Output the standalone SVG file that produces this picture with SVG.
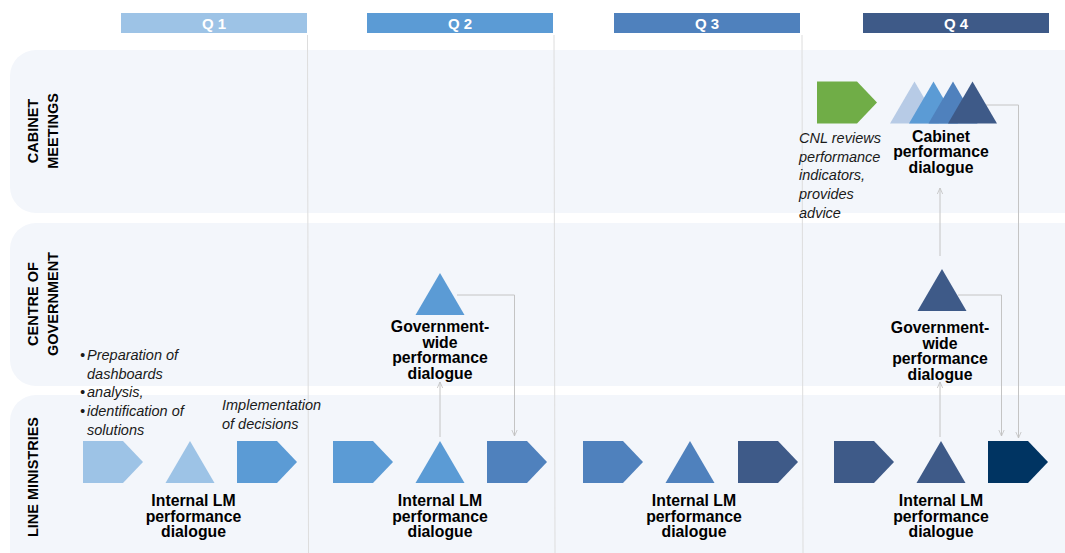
<svg xmlns="http://www.w3.org/2000/svg" width="1065" height="553" viewBox="0 0 1065 553">
<style>
.lane{fill:#F3F6FB}
.div{stroke:#DDDDDD;stroke-width:1;fill:none}
.hdr{font-family:"Liberation Sans",Arial,sans-serif;font-weight:bold;font-size:15px;fill:#FFFFFF;text-anchor:middle}
.lbl{font-family:"Liberation Sans",Arial,sans-serif;font-weight:bold;font-size:15.8px;fill:#000000;text-anchor:middle}
.lane-lbl{font-family:"Liberation Sans",Arial,sans-serif;font-weight:bold;font-size:14.5px;fill:#000000;text-anchor:middle}
.it{font-family:"Liberation Sans",Arial,sans-serif;font-style:italic;font-size:14.5px;fill:#1A1A1A}
.con{stroke:#C4C4C4;stroke-width:1;fill:none}
.c1{fill:#9DC3E6}.c2{fill:#5B9BD5}.c3{fill:#4F81BD}.c4{fill:#3E5A88}.c5{fill:#003462}.cl{fill:#B7CBE6}.cg{fill:#70AD47}
</style>
<defs>
<path id="pent" d="M0,0 H40 L60,21 L40,42 H0 Z"/>
<path id="tri" d="M24.5,0 L49,42 H0 Z"/>
<marker id="arr" viewBox="0 0 10 10" refX="9" refY="5" markerWidth="7" markerHeight="7" orient="auto" markerUnits="userSpaceOnUse">
<path d="M0,1 L9,5 L0,9" fill="none" stroke="#C4C4C4" stroke-width="1.2"/>
</marker>
</defs>

<g id="lanes">
<rect class="lane" x="10" y="50" width="1085" height="163" rx="26"/>
<rect class="lane" x="10" y="223" width="1085" height="163" rx="26"/>
<rect class="lane" x="10" y="395" width="1085" height="190" rx="26"/>
<text class="lane-lbl" transform="translate(37.5,131) rotate(-90)">CABINET</text>
<text class="lane-lbl" transform="translate(58,131) rotate(-90)">MEETINGS</text>
<text class="lane-lbl" transform="translate(37.5,304) rotate(-90)">CENTRE OF</text>
<text class="lane-lbl" transform="translate(58,304) rotate(-90)">GOVERNMENT</text>
<text class="lane-lbl" transform="translate(37.5,477) rotate(-90)">LINE MINISTRIES</text>
</g>

<g id="dividers">
<line class="div" x1="307.5" y1="35" x2="308.5" y2="553"/>
<line class="div" x1="554" y1="35" x2="555" y2="553"/>
<line class="div" x1="802" y1="35" x2="803" y2="553"/>
</g>

<g id="headers">
<g id="q1"><rect x="121" y="13" width="186" height="20" class="c1"/><text class="hdr" x="214" y="29">Q 1</text></g>
<g id="q2"><rect x="367" y="13" width="186" height="20" class="c2"/><text class="hdr" x="460" y="29">Q 2</text></g>
<g id="q3"><rect x="614" y="13" width="186" height="20" class="c3"/><text class="hdr" x="707" y="29">Q 3</text></g>
<g id="q4"><rect x="863" y="13" width="186" height="20" class="c4"/><text class="hdr" x="956" y="29">Q 4</text></g>
</g>

<g id="connectors">
<path class="con" d="M440,437 V382" marker-end="url(#arr)"/>
<path class="con" d="M457,295 H514.5 V436" marker-end="url(#arr)"/>
<path class="con" d="M940,437 V382" marker-end="url(#arr)"/>
<path class="con" d="M940,256 V188" marker-end="url(#arr)"/>
<path class="con" d="M958,295 H1001.5 V436" marker-end="url(#arr)"/>
<path class="con" d="M986,105 H1018.5 V438" marker-end="url(#arr)"/>
</g>

<g id="lm-q1">
<use href="#pent" x="83" y="441" class="c1"/>
<use href="#tri" x="165.5" y="441" class="c1"/>
<use href="#pent" x="237" y="441" class="c2"/>
<text class="lbl" x="193.5" y="506">Internal LM</text>
<text class="lbl" x="193.5" y="521.5">performance</text>
<text class="lbl" x="193.5" y="537">dialogue</text>
</g>
<g id="lm-q1-notes">
<text class="it" x="80" y="360">•<tspan x="87">Preparation of</tspan></text>
<text class="it" x="87" y="379">dashboards</text>
<text class="it" x="80" y="397">•<tspan x="87">analysis,</tspan></text>
<text class="it" x="80" y="416">•<tspan x="87">identification of</tspan></text>
<text class="it" x="87" y="434.5">solutions</text>
<text class="it" x="222" y="410">Implementation</text>
<text class="it" x="222" y="429">of decisions</text>
</g>

<g id="lm-q2">
<use href="#pent" x="333" y="441" class="c2"/>
<use href="#tri" x="415.5" y="441" class="c2"/>
<use href="#pent" x="487" y="441" class="c3"/>
<text class="lbl" x="440" y="506">Internal LM</text>
<text class="lbl" x="440" y="521.5">performance</text>
<text class="lbl" x="440" y="537">dialogue</text>
</g>

<g id="lm-q3">
<use href="#pent" x="583" y="441" class="c3"/>
<use href="#tri" x="665.5" y="441" class="c3"/>
<use href="#pent" x="738" y="441" class="c4"/>
<text class="lbl" x="694" y="506">Internal LM</text>
<text class="lbl" x="694" y="521.5">performance</text>
<text class="lbl" x="694" y="537">dialogue</text>
</g>

<g id="lm-q4">
<use href="#pent" x="834" y="441" class="c4"/>
<use href="#tri" x="916.5" y="441" class="c4"/>
<use href="#pent" x="988" y="441" class="c5"/>
<text class="lbl" x="941" y="506">Internal LM</text>
<text class="lbl" x="941" y="521.5">performance</text>
<text class="lbl" x="941" y="537">dialogue</text>
</g>

<g id="cog-q2">
<use href="#tri" x="415.5" y="273" class="c2"/>
<text class="lbl" x="440" y="332">Government-</text>
<text class="lbl" x="440" y="347.5">wide</text>
<text class="lbl" x="440" y="363">performance</text>
<text class="lbl" x="440" y="378.5">dialogue</text>
</g>

<g id="cog-q4">
<use href="#tri" x="917.5" y="269" class="c4"/>
<text class="lbl" x="940" y="333">Government-</text>
<text class="lbl" x="940" y="348.5">wide</text>
<text class="lbl" x="940" y="364">performance</text>
<text class="lbl" x="940" y="379.5">dialogue</text>
</g>

<g id="cnl">
<use href="#pent" x="817" y="81.5" class="cg"/>
<text class="it" x="799" y="142.5">CNL reviews</text>
<text class="it" x="799" y="161.5">performance</text>
<text class="it" x="799" y="180">indicators,</text>
<text class="it" x="799" y="199">provides</text>
<text class="it" x="799" y="217.5">advice</text>
</g>

<g id="cabinet">
<use href="#tri" x="890" y="81.5" class="cl"/>
<use href="#tri" x="909" y="81.5" class="c2"/>
<use href="#tri" x="928.5" y="81.5" class="c3"/>
<use href="#tri" x="948" y="81.5" class="c4"/>
<text class="lbl" x="941" y="142">Cabinet</text>
<text class="lbl" x="941" y="157">performance</text>
<text class="lbl" x="941" y="172.5">dialogue</text>
</g>
</svg>
